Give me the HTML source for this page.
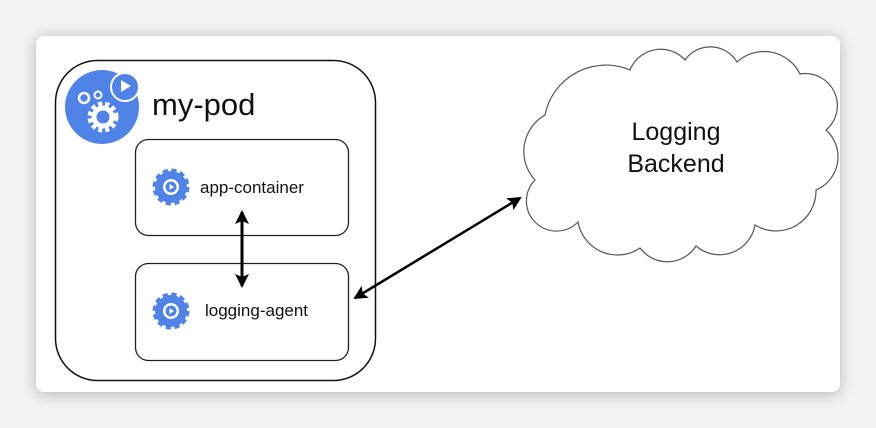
<!DOCTYPE html>
<html><head><style>
html,body{margin:0;padding:0;width:876px;height:428px;overflow:hidden;background:#f2f2f2;}
.card{position:absolute;left:36px;top:36px;width:804px;height:356px;background:#fff;border-radius:8px;box-shadow:0 2px 14px rgba(0,0,0,0.25);}
svg{position:absolute;left:0;top:0;}
text{font-family:"Liberation Sans",sans-serif;fill:#111;}
</style></head><body>
<div class="card"></div>
<svg width="876" height="428" viewBox="0 0 876 428">
<defs>
<marker id="ah" markerWidth="14" markerHeight="14" refX="12" refY="7" orient="auto-start-reverse" markerUnits="userSpaceOnUse" viewBox="0 0 14 14">
<path d="M0,0 L14,7 L0,14 L3,7 z" fill="#000"/>
</marker>
<g id="gear">
<circle cx="0" cy="0" r="16" fill="#4f83e8" stroke="#4f83e8" stroke-width="5" stroke-dasharray="5 3.4"/>
<circle cx="0" cy="0" r="15" fill="#4f83e8"/>
<circle cx="0" cy="0" r="8" fill="#fff"/>
<circle cx="0" cy="0" r="5.5" fill="#4f83e8"/>
<path d="M-1.5,-3 L3,0 L-1.5,3 z" fill="#fff"/>
</g>
</defs>
<rect x="55.5" y="60.5" width="320" height="320" rx="42" fill="none" stroke="#111" stroke-width="1.5"/>
<circle cx="102" cy="107" r="37" fill="#4f83e8"/>
<circle cx="125" cy="87" r="14" fill="#4f83e8" stroke="#fff" stroke-width="2"/>
<path d="M121,80 L131,86 L121,92 z" fill="#fff"/>
<circle cx="84" cy="98" r="5" fill="none" stroke="#fff" stroke-width="2.5"/>
<circle cx="98" cy="95" r="3.5" fill="none" stroke="#fff" stroke-width="2"/>
<circle cx="103" cy="117" r="13" fill="none" stroke="#fff" stroke-width="5" stroke-dasharray="4 3"/>
<circle cx="103" cy="117" r="9" fill="none" stroke="#fff" stroke-width="5"/>
<text x="152" y="115" font-size="31">my-pod</text>
<rect x="135.5" y="139.5" width="213" height="96" rx="13" fill="none" stroke="#222" stroke-width="1.3"/>
<rect x="135.5" y="263.5" width="213" height="97" rx="13" fill="none" stroke="#222" stroke-width="1.3"/>
<use href="#gear" x="171" y="187"/>
<use href="#gear" x="171" y="311"/>
<text x="200" y="193" font-size="17">app-container</text>
<text x="205" y="316" font-size="17">logging-agent</text>
<line x1="242" y1="212" x2="242" y2="286" stroke="#000" stroke-width="3" marker-start="url(#ah)" marker-end="url(#ah)"/>
<line x1="355" y1="298" x2="520" y2="198" stroke="#000" stroke-width="2.5" marker-start="url(#ah)" marker-end="url(#ah)"/>
<path d="M545,115 A62,62 0 0 1 630,70 A33,33 0 0 1 685,60 A31,31 0 0 1 737,62 A40,40 0 0 1 800,74 A32,32 0 0 1 826,130 A36,36 0 0 1 816,190 A40,40 0 0 1 755,225 A36,36 0 0 1 696,246 A34,34 0 0 1 640,248 A40,40 0 0 1 578,222 A30,30 0 0 1 535,180 A42,42 0 0 1 545,115 z" fill="#fff" stroke="#555" stroke-width="1.2"/>
<text x="676" y="140" font-size="25" text-anchor="middle">Logging</text>
<text x="676" y="172" font-size="25" text-anchor="middle">Backend</text>
</svg>
</body></html>
